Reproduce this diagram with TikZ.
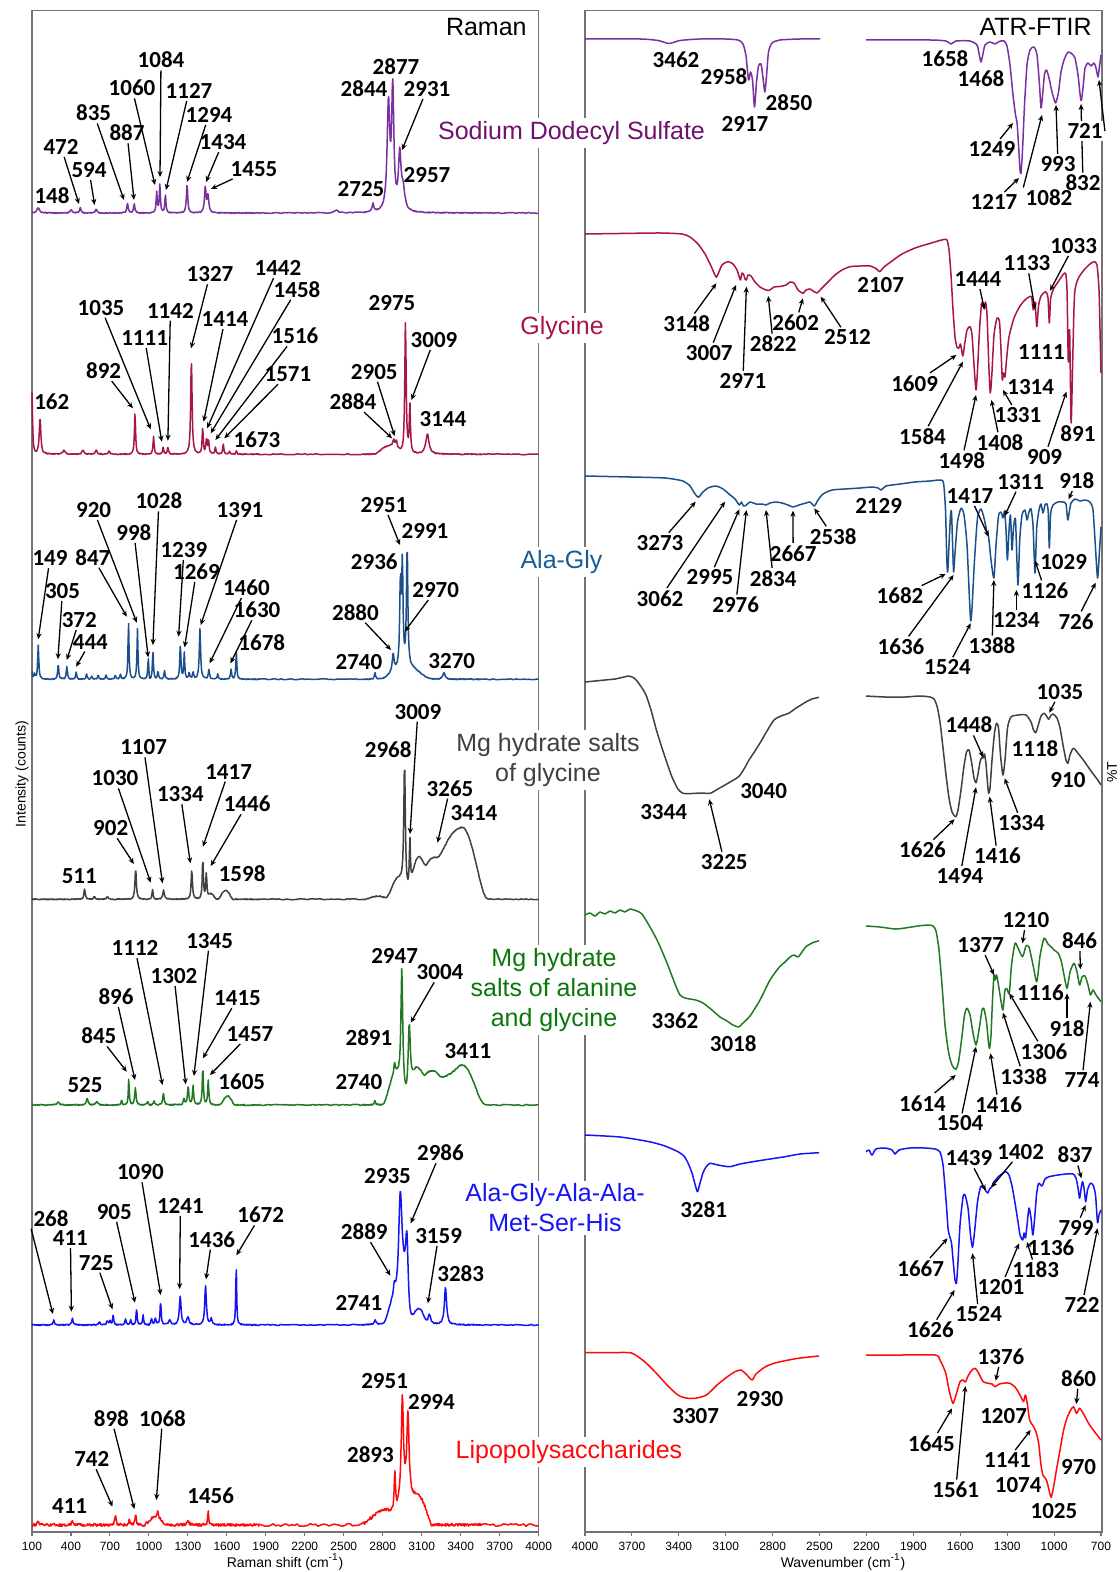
\documentclass[tikz,border=0pt]{standalone}
\usepackage{fontspec}
\setmainfont{Liberation Sans}
\newfontfamily\numfont{Carlito}
\usetikzlibrary{arrows.meta}

\definecolor{sdsline}{RGB}{122,48,160}
\definecolor{sdstext}{RGB}{112,16,112}
\definecolor{glyline}{RGB}{168,22,72}
\definecolor{agline}{RGB}{28,80,140}
\definecolor{agtext}{RGB}{24,92,150}
\definecolor{mggline}{RGB}{64,64,64}
\definecolor{mgagline}{RGB}{34,120,34}
\definecolor{mgagtext}{RGB}{10,120,10}
\definecolor{pepline}{RGB}{20,20,245}
\definecolor{lpsline}{RGB}{255,10,10}

% Raman spectra built as sums of peaks (x in units of 100 cm-1, heights in px)
\newcommand\newspec[1]{\gdef#1{0}}
\newcommand\addpk[4]{%
  \pgfmathsetmacro\pkA{#3*#4*#4}%
  \pgfmathsetmacro\pkB{#4*#4}%
  \xdef#1{\unexpanded\expandafter{#1}+\pkA/(\pkB+(\noexpand\x-#2)*(\noexpand\x-#2))}}
\newcommand\addbb[4]{%
  \pgfmathsetmacro\pkI{1/#4}%
  \xdef#1{\unexpanded\expandafter{#1}+#3*(1-(min(abs(\noexpand\x-#2),#4)*\pkI)^2)^2}}

\newspec\aRa \newspec\aRb \newspec\aRc
\addpk\aRa{1.48}{5}{0.12} \addpk\aRa{4.00}{3}{0.1} \addpk\aRa{4.72}{5}{0.07}
\addpk\aRa{5.94}{4}{0.07} \addpk\aRa{8.35}{10}{0.06} \addpk\aRa{8.87}{9}{0.06}
\addpk\aRb{10.60}{20}{0.05} \addpk\aRb{10.84}{28}{0.05} \addpk\aRb{11.27}{18}{0.05}
\addpk\aRb{12.94}{29}{0.06} \addpk\aRb{14.34}{26}{0.07} \addpk\aRb{14.55}{17}{0.07}
\addpk\aRc{24.40}{4}{0.1} \addpk\aRc{27.25}{8}{0.08} \addpk\aRc{28.44}{106}{0.12}
\addpk\aRc{28.77}{120}{0.1} \addpk\aRc{29.31}{55}{0.12} \addpk\aRc{29.57}{20}{0.15}

\newspec\bRa \newspec\bRb \newspec\bRc
\addpk\bRa{1.00}{61}{0.05} \addpk\bRa{1.62}{37}{0.07} \addpk\bRa{3.46}{4}{0.1}
\addpk\bRa{4.92}{4}{0.1} \addpk\bRa{5.94}{4}{0.08} \addpk\bRa{6.93}{3}{0.08}
\addpk\bRa{8.93}{42}{0.05}
\addpk\bRb{10.36}{18}{0.05} \addpk\bRb{11.10}{7}{0.05} \addpk\bRb{11.46}{7.5}{0.05}
\addpk\bRb{13.27}{97}{0.06} \addpk\bRb{14.14}{26}{0.05} \addpk\bRb{14.43}{15}{0.05}
\addpk\bRb{14.59}{14}{0.05} \addpk\bRb{15.12}{7}{0.05} \addpk\bRb{15.72}{10}{0.05}
\addpk\bRb{16.20}{3}{0.05} \addpk\bRb{16.73}{3}{0.05}
\addbb\bRc{28.5}{8}{1.2} \addpk\bRc{28.84}{7}{0.08} \addpk\bRc{29.05}{7}{0.08}
\addpk\bRc{29.75}{134}{0.06} \addpk\bRc{30.09}{48}{0.05} \addpk\bRc{31.44}{20}{0.15}

\newspec\cRa \newspec\cRb \newspec\cRc
\addpk\cRa{1.00}{8}{0.04} \addpk\cRa{1.20}{5}{0.05} \addpk\cRa{1.48}{34}{0.05}
\addpk\cRa{3.02}{15}{0.05} \addpk\cRa{3.68}{13}{0.05} \addpk\cRa{4.40}{7}{0.05}
\addpk\cRa{5.20}{5}{0.05} \addpk\cRa{5.60}{3}{0.05} \addpk\cRa{6.10}{4}{0.05}
\addpk\cRa{6.70}{4}{0.05} \addpk\cRa{7.40}{4}{0.05} \addpk\cRa{7.80}{5}{0.05}
\addpk\cRa{8.43}{57}{0.045} \addpk\cRa{9.12}{50}{0.045} \addpk\cRa{9.95}{21}{0.045}
\addpk\cRb{10.31}{28}{0.045} \addpk\cRb{10.70}{8}{0.05} \addpk\cRb{11.20}{8}{0.05}
\addpk\cRb{12.42}{35}{0.05} \addpk\cRb{12.72}{26}{0.045} \addpk\cRb{13.10}{6}{0.05}
\addpk\cRb{13.40}{7}{0.05} \addpk\cRb{13.93}{50}{0.06} \addpk\cRb{14.62}{10}{0.05}
\addpk\cRb{15.30}{5}{0.05} \addpk\cRb{16.32}{10}{0.05} \addpk\cRb{16.73}{27}{0.045}
\addpk\cRc{27.40}{7}{0.05} \addbb\cRc{29.8}{12}{2.0} \addpk\cRc{28.80}{18}{0.08}
\addpk\cRc{29.36}{82}{0.06} \addpk\cRc{29.51}{100}{0.06} \addpk\cRc{29.88}{122}{0.06}
\addpk\cRc{32.71}{7}{0.1}

\newspec\dRa \newspec\dRb \newspec\dRc
\addpk\dRa{5.05}{10}{0.06} \addpk\dRa{5.80}{3}{0.06} \addpk\dRa{6.80}{3}{0.07}
\addpk\dRa{8.98}{31}{0.06}
\addpk\dRb{10.28}{10}{0.05} \addpk\dRb{11.13}{9}{0.07} \addpk\dRb{13.30}{29}{0.06}
\addpk\dRb{14.15}{40}{0.05} \addpk\dRb{14.42}{26}{0.05} \addbb\dRb{15.9}{9}{0.6}
\addbb\dRb{14.8}{5}{0.4}
\addpk\dRc{29.68}{125}{0.07} \addpk\dRc{30.09}{48}{0.05} \addbb\dRc{29.2}{20}{1.0}
\addbb\dRc{30.6}{28}{0.8} \addbb\dRc{32.0}{42}{2.0} \addbb\dRc{34.1}{72}{2.0}
\addbb\dRc{27.6}{3}{1.0}

\newspec\eRa \newspec\eRb \newspec\eRc
\addpk\eRa{3.0}{3}{0.1} \addpk\eRa{5.25}{7}{0.07} \addpk\eRa{6.0}{3}{0.1}
\addpk\eRa{7.9}{5}{0.05} \addpk\eRa{8.45}{27}{0.04} \addpk\eRa{8.96}{17}{0.06}
\addpk\eRa{9.9}{4}{0.05}
\addpk\eRb{10.4}{4}{0.05} \addpk\eRb{11.12}{12}{0.06} \addpk\eRb{12.7}{6}{0.06}
\addpk\eRb{13.02}{18}{0.06} \addpk\eRb{13.40}{20}{0.05} \addpk\eRb{14.15}{38}{0.05}
\addpk\eRb{14.57}{25}{0.05} \addbb\eRb{16.05}{9}{0.6}
\addpk\eRc{27.4}{4}{0.05} \addbb\eRc{29.0}{30}{1.0} \addpk\eRc{28.91}{10}{0.06}
\addpk\eRc{29.47}{118}{0.08} \addpk\eRc{30.04}{68}{0.1} \addbb\eRc{30.5}{22}{0.8}
\addbb\eRc{31.8}{34}{2.0} \addbb\eRc{34.1}{40}{1.8}

\newspec\fRa \newspec\fRb \newspec\fRc
\addpk\fRa{2.68}{5}{0.06} \addpk\fRa{4.11}{7}{0.06} \addpk\fRa{6.2}{3}{0.08}
\addpk\fRa{6.8}{4}{0.06} \addpk\fRa{7.0}{4}{0.05} \addpk\fRa{7.25}{10}{0.05}
\addpk\fRa{8.2}{6}{0.05} \addpk\fRa{8.6}{5}{0.05} \addpk\fRa{9.05}{16}{0.05}
\addpk\fRa{9.55}{10}{0.05}
\addpk\fRb{10.2}{6}{0.06} \addpk\fRb{10.5}{7}{0.06} \addpk\fRb{10.90}{23}{0.05}
\addpk\fRb{11.6}{5}{0.08} \addpk\fRb{12.41}{28}{0.08} \addpk\fRb{13.0}{8}{0.1}
\addpk\fRb{14.36}{40}{0.07} \addpk\fRb{14.8}{6}{0.08} \addpk\fRb{16.72}{62}{0.04}
\addpk\fRc{27.41}{4}{0.08} \addbb\fRc{29.0}{25}{1.0} \addpk\fRc{28.89}{10}{0.06}
\addpk\fRc{29.35}{95}{0.15} \addpk\fRc{29.86}{69}{0.12} \addbb\fRc{29.6}{30}{0.5}
\addbb\fRc{30.8}{14}{0.7} \addpk\fRc{31.59}{10}{0.12} \addpk\fRc{32.83}{37}{0.1}

\newspec\gRa \newspec\gRb \newspec\gRc
\addpk\gRa{1.5}{3}{0.1} \addpk\gRa{4.11}{4}{0.08} \addpk\gRa{7.42}{10}{0.06}
\addpk\gRa{8.5}{5}{0.06} \addpk\gRa{8.98}{10}{0.06} \addbb\gRa{10.5}{8}{0.9}
\addbb\gRb{10.5}{8}{0.9} \addpk\gRb{10.68}{6}{0.06} \addpk\gRb{13.0}{4}{0.1}
\addpk\gRb{14.56}{15}{0.04}
\addbb\gRc{28.2}{14}{2.0} \addpk\gRc{28.93}{40}{0.06} \addpk\gRc{29.51}{101}{0.1}
\addpk\gRc{29.94}{77}{0.1} \addbb\gRc{30.0}{30}{1.2} \addbb\gRc{31.0}{22}{0.8}

% style, baseline, three parts, noise
\newcommand\ramanplot[6]{%
  \draw[trace,#1] plot[domain=1:10,samples=226] ({19.01+12.99*\x},{#2-(#3)+#6*rand})
    -- plot[domain=10.04:18.5,samples=212] ({19.01+12.99*\x},{#2-(#4)+#6*rand})
    -- plot[domain=18.54:26.5,samples=40] ({19.01+12.99*\x},{#2-(#5)+#6*rand})
    -- plot[domain=26.54:35.5,samples=225] ({19.01+12.99*\x},{#2-(#5)+#6*rand})
    -- plot[domain=35.54:40,samples=24] ({19.01+12.99*\x},{#2-(#5)+#6*rand});}

\newcommand\plab[4][]{\node[pklbl,#1] (#2#3) at (#4) {#3};}
\newcommand\parr[3][]{\coordinate (#2p) at (#3);%
  \ifx\relax#1\relax\draw[pkarr] (#2) -- (#2p);\else\draw[pkarr] (#2.#1) -- (#2p);\fi}

\begin{document}
\begin{tikzpicture}[
    x=0.5pt, y=-0.5pt,
    frame/.style={draw=black!55, line width=0.55pt},
    trace/.style={line width=0.75pt, line join=round},
    pklbl/.style={font=\numfont\bfseries\fontsize{11.5}{12}\selectfont, inner sep=1pt},
    pkarr/.style={-{Stealth[length=3pt,width=2.6pt]}, line width=0.65pt},
    samp/.style={font=\fontsize{12.5}{15}\selectfont, fill=white, align=center, inner sep=1.5pt},
    ttl/.style={font=\fontsize{12.5}{15}\selectfont, inner sep=0pt},
    tick/.style={font=\fontsize{6}{7}\selectfont, inner sep=0pt},
    axt/.style={font=\fontsize{7}{8}\selectfont, inner sep=0pt}
  ]
  \fill[white] (0,0) rectangle (1119,1572);
  \useasboundingbox (0,0) rectangle (1119,1572);

  \draw[frame] (32,10.7) rectangle (538.6,1532);
  \draw[frame] (585,10.7) rectangle (1102,1532);
  \foreach \t in {100,400,...,4000} {
    \draw[frame] ({32+(\t-100)*0.1299},1532) -- ++(0,4);
    \node[tick] (rt\t) at ({32+(\t-100)*0.1299},1546) {\t};
  }
  \foreach \t in {4000,3700,...,700} {
    \draw[frame] ({585+(4000-\t)*0.15636},1532) -- ++(0,4);
    \node[tick] (ft\t) at ({585+(4000-\t)*0.15636},1546) {\t};
  }

  \ramanplot{sdsline}{213}{\aRa}{\aRb}{\aRc}{0.5}
  \ramanplot{glyline}{454.3}{\bRa}{\bRb}{\bRc}{0.5}
  \ramanplot{agline}{679.3}{\cRa}{\cRb}{\cRc}{0.5}
  \ramanplot{mggline}{899.3}{\dRa}{\dRb}{\dRc}{0.5}
  \ramanplot{mgagline}{1105}{\eRa}{\eRb}{\eRc}{0.6}
  \ramanplot{pepline}{1325}{\fRa}{\fRb}{\fRc}{0.6}
  \ramanplot{lpsline}{1525}{\gRa}{\gRb}{\gRc}{1.4}

  \draw[trace,sdsline] plot[smooth,tension=0.4] coordinates {(585,39) (640,39) (658,40.5) (669,43.5) (680,40.5) (700,39) (725,39) (738,40) (743,44) (746,56) (748.5,80) (750.5,72) (752.5,80) (754.5,107) (756.5,82) (758.5,66) (761,64) (763,78) (764.8,92) (766.5,76) (768.5,52) (772,43) (780,40) (800,39) (820,39)};
  \draw[trace,sdsline] plot[smooth,tension=0.4] coordinates {(866,40) (930,40) (946,41) (951,44) (956,41) (970,41) (977,45) (979.5,56) (981,62) (982.5,56) (985,45) (990,42) (995,44) (999,41.5) (1004,41) (1007,46) (1010,65) (1013,95) (1015.5,115) (1017,122) (1018.5,145) (1020,170) (1021,173) (1022.5,150) (1024.5,105) (1027,65) (1030,50) (1034,47) (1037,55) (1039.5,85) (1041,108) (1042.5,96) (1044.5,74) (1046.5,70) (1049,78) (1052,92) (1055.5,103) (1058.5,92) (1061,72) (1064,60) (1068,52) (1072,54) (1075,58) (1078,75) (1080.5,98) (1081.5,100) (1083,88) (1085,68) (1088,63) (1091,66) (1094,63) (1096,68) (1098,77) (1099.5,66) (1101,55)};
  \draw[trace,glyline] plot[smooth,tension=0.4] coordinates {(585,234) (620,233.5) (660,233) (682,234) (690,237) (698,244) (705,254) (711,266) (714.5,274) (716.4,277.3) (718.5,273) (722,265) (727.9,261.7) (733,264) (737,270) (739,276) (740.5,280) (742,273) (743.8,275) (745,279) (746.4,280) (748,275) (751,276) (755,282) (760,287) (766,290) (769,290.5) (774,287) (780,286.5) (786,285) (790,282) (794,283) (798,290) (802.9,293.3) (806,290) (810,289) (813,291) (817,293) (821,289) (828,282) (835,275) (842,270) (850,266.7) (860,266) (870,266) (876,268.5) (879.6,271.7) (884,267) (892,261) (902,254) (915,248) (928,244) (938,241) (944,239.5) (947,240) (949,250) (951,275) (953,310) (955,337) (956.9,347) (958.9,348) (960.5,344) (962.8,356) (964.5,345) (967,330) (970,326.7) (972,335) (974,365) (976,390) (977.5,370) (979.5,330) (981.5,304) (983,303) (984.3,309) (985.5,302) (987,315) (989,370) (990.3,393) (991.8,375) (994,335) (997,318) (999.5,322) (1001,350) (1002.3,380) (1003.5,373) (1005,377) (1006.5,360) (1009,337) (1014,318) (1020,306) (1026,299) (1031.4,296.7) (1033.3,310) (1035,302) (1036.8,326.7) (1038.5,306) (1041,296) (1045.7,291.7) (1048,298) (1049.3,323) (1050.7,298) (1054,288) (1058,282) (1062,276) (1065.5,273.3) (1067,290) (1068.3,362) (1069.6,330) (1071.1,423) (1072.6,365) (1074.5,295) (1078,279) (1084,270) (1090,264) (1094,261.7) (1097,265) (1099,290) (1100,330) (1101,373)};
  \draw[trace,agline] plot[smooth,tension=0.4] coordinates {(585,476) (630,477) (665,478) (683,481) (690,486) (695,494) (698.6,497.3) (702,493) (708,488) (716,486) (723,489) (729,494) (735,499) (739.3,505) (741.5,502) (743.5,506) (746.4,505) (750,502) (756,504) (762,504) (766,505) (770,503) (776,502) (782,503) (788,505) (793,507) (799,505) (806,503) (810,502) (814.3,506) (818,500) (823,494) (832,490) (845,489) (860,488) (872,487) (878,488) (881.4,490) (886,486) (900,484) (915,482) (930,481) (940,480) (943.5,483) (945.5,510) (946.8,560) (947.7,572) (949,545) (950.5,515) (951.5,512) (952.6,545) (953.6,572) (955,553) (957.5,522) (961,508.3) (964,515) (967,545) (969.5,600) (970.7,621) (972,608) (974.5,560) (977.5,518) (981,509) (984,518) (986.5,530) (988.6,537) (991,560) (993.9,578) (996,545) (998.5,516) (1001,512) (1003,518) (1004.6,511) (1006,530) (1007.4,560) (1009,530) (1010.5,515) (1012,550) (1013.5,528) (1015.5,520) (1017.9,585) (1019.7,540) (1022,515) (1025,510) (1027,520) (1029,512) (1031,509) (1033,525) (1035,573) (1036.7,528) (1039,510) (1041,504) (1043,513) (1045,505) (1047,504) (1048.2,512) (1049.3,548) (1050.6,514) (1053,505) (1058,502) (1063,502) (1066,504) (1067.7,520) (1069.3,512) (1071,503) (1075,499) (1080,501) (1085,500) (1090,502) (1093,510) (1095,540) (1097.5,578) (1099.2,555) (1101,527)};
  \draw[trace,mggline] plot[smooth,tension=0.4] coordinates {(585,682) (595,681) (605,680) (615,679) (624,677) (629,676) (634,678) (637,681) (642,688) (646,695) (651,710) (656.4,730) (662,748) (667,763) (672,777) (677.9,789) (683,793.3) (692,793.5) (701,793) (710,793.3) (718,789) (727.9,783.3) (738.6,776.7) (744,769) (749,760) (755,751) (760,743) (767,731) (774,720) (781,716) (788.6,713.3) (792,711) (795.7,708.3) (801,705) (806.4,701.7) (812,699) (819,697.3)};
  \draw[trace,mggline] plot[smooth,tension=0.4] coordinates {(866,696) (885,697) (905,697) (920,696) (930,697) (934,699) (937,706) (940,722) (943,748) (946,775) (949,798) (952,812) (955.7,816.7) (958,810) (961,790) (964,766) (966.5,752) (969,750) (971.5,762) (974,778) (976,782.7) (978,774) (980,762) (982,757) (983.2,758) (984.5,754) (986,764) (987.5,783) (988.6,793.3) (990,788) (992,760) (994.5,733) (996.5,723.3) (998.5,728) (1000.5,755) (1002.9,775) (1005,760) (1007.5,728) (1011,717) (1018,715) (1026,715) (1031,722) (1033.5,730) (1035.7,732.7) (1038,726) (1041,716) (1044,713.3) (1046.5,716) (1048.6,719.3) (1050.5,716) (1053,714) (1057,718) (1060,728) (1063,745) (1066,760) (1067.9,763.3) (1070,755) (1072.5,749) (1074,748.3) (1077,752) (1084,761) (1091,771) (1097,779) (1101,785)};
  \draw[trace,mgagline] plot[smooth,tension=0.4] coordinates {(585,915) (590,913) (595,916) (600,912) (605,914) (610,911) (615,913) (620,910) (625,912) (630,909) (636.8,911) (642,914) (650,927) (658,942) (667,963) (675,984) (680,995) (685,998) (690,999) (695.7,1000) (703,1003) (712,1010) (720,1017) (727,1021) (733,1025) (738.6,1027) (742,1024) (750,1016) (760,1000) (770,980) (779.6,966.7) (785,962) (790,957) (794,955) (798,957) (802,952) (806,946.7) (812,943) (819,940.7)};
  \draw[trace,mgagline] plot[smooth,tension=0.4] coordinates {(866,926) (880,927) (895,929) (905,928) (918,926) (928,925) (933,926) (936,931) (939,950) (942,985) (945,1025) (948.5,1052) (952,1065) (955.7,1069.3) (958.5,1062) (961.5,1040) (964.5,1015) (967,1008.3) (970,1015) (973,1033) (976,1045) (979,1030) (982,1010) (984,1009) (986.5,1022) (988.5,1043) (989.6,1048.3) (991,1035) (992.5,1000) (994,975) (995.2,980) (996.5,975) (998,982) (1000.5,998) (1002.9,1010) (1005,990) (1007,989) (1009.3,993.3) (1011.5,965) (1015,943.3) (1018,948) (1022.5,956.7) (1026,946) (1029,947) (1033,965) (1036.8,981.7) (1040,956) (1044,938.3) (1048,944) (1051,946.7) (1054,950) (1058,953) (1061,960) (1064,975) (1067,988.3) (1070,972) (1074,963.3) (1077,972) (1079.6,985) (1082,977) (1085,976) (1088,985) (1090.4,995) (1093,990) (1096,995) (1101,1001.7)};
  \draw[trace,pepline] plot[smooth,tension=0.4] coordinates {(585,1135) (620,1137) (649.3,1141.7) (665,1146) (677.9,1151.7) (684,1156) (688,1163) (692,1173) (695.5,1186) (697.5,1191.7) (699.5,1185) (702.9,1173) (706,1167) (710,1163.3) (718,1165) (729.6,1166.7) (740,1164) (752.9,1161.7) (770,1159) (785,1156.7) (800,1154) (819,1152.7)};
  \draw[trace,pepline] plot[smooth,tension=0.4] coordinates {(866,1151.7) (869,1150) (872,1155) (876,1149) (885,1148) (892,1150) (895,1154) (899,1150) (910,1148) (925,1148) (935,1149) (940,1152) (943,1165) (946,1200) (948,1228) (949.3,1235) (951.5,1243) (953.5,1265) (955,1280) (956.4,1283.3) (957.8,1265) (960,1225) (963,1197) (965,1195) (968,1208) (970.5,1235) (972.5,1247.3) (974.5,1232) (977.5,1202) (980.5,1187) (983,1186) (985.7,1190.7) (987.8,1193) (989.5,1189) (991.4,1187.3) (994,1182) (998,1177) (1003,1173) (1006,1171.7) (1009,1175) (1012,1186) (1015,1203) (1018,1222) (1020,1235) (1022.7,1240) (1024,1233) (1025.5,1238) (1027,1225) (1029,1208) (1031,1218) (1032.8,1235) (1034.5,1220) (1036.5,1195) (1038.6,1183.3) (1042,1186) (1045,1179) (1049,1176.7) (1058,1175) (1066,1174) (1073,1174) (1076,1178) (1078,1188) (1079.6,1198.3) (1081,1189) (1082.5,1181.7) (1084,1188) (1085.7,1201.7) (1087.5,1190) (1090.4,1183.3) (1093,1185) (1095.5,1195) (1097.5,1222.7) (1099,1215) (1101,1210)};
  \draw[trace,lpsline] plot[smooth,tension=0.4] coordinates {(585,1352.7) (610,1352.7) (631.4,1353) (645,1362) (656.4,1373.3) (667,1385) (677.9,1395) (686,1398) (695,1398.3) (706.4,1395) (717,1385) (727,1377) (735,1371.7) (741,1370) (746,1374) (752.1,1380) (756,1374) (765.4,1366.7) (775,1363) (788.6,1360) (800,1358) (819,1356)};
  \draw[trace,lpsline] plot[smooth,tension=0.4] coordinates {(866,1355) (900,1355) (935,1355) (940,1360) (945.7,1373) (949,1390) (952.9,1403.3) (956,1395) (960,1381.7) (963,1380) (965.4,1382) (968,1376) (972,1370) (975,1368.3) (978,1372) (983.2,1381.7) (988.6,1383.3) (992,1384) (995,1386.7) (999.3,1384) (1005,1383) (1010,1383.3) (1015,1387) (1019,1393.3) (1021.5,1398) (1023.6,1401.7) (1025.4,1395) (1027.5,1405) (1029.6,1420) (1033.2,1426) (1036,1432) (1038.6,1443) (1041,1465) (1042.9,1475) (1046.4,1480) (1049,1490) (1051,1497.3) (1053,1490) (1056.4,1470) (1060,1450) (1063.6,1430) (1067,1418) (1070.7,1410) (1073.6,1406.7) (1076.4,1413.3) (1079.6,1408.3) (1083,1413) (1088.6,1423.3) (1094,1431) (1101,1440)};

  \node[samp, text=sdstext] (sds) at (571.5,133) {Sodium Dodecyl Sulfate};
  \node[samp, text=glyline] (gly) at (562,328) {Glycine};
  \node[samp, text=agtext] (ag) at (561.5,562) {Ala-Gly};
  \node[samp, text=mggline] (mgg) at (548,760) {Mg hydrate salts\\of glycine};
  \node[samp, text=mgagtext] (mgag) at (554,990) {Mg hydrate\\salts of alanine\\and glycine};
  \node[samp, text=pepline] (pep) at (555,1208) {Ala-Gly-Ala-Ala-\\Met-Ser-His};
  \node[samp, text=lpsline] (lps) at (569,1452) {Lipopolysaccharides};

  \plab{aR}{148}{52,196}
  \plab{aR}{472}{61,147} \parr{aR472}{79,204}
  \plab{aR}{594}{89,170} \parr{aR594}{94.6,205}
  \plab{aR}{835}{93.6,113} \parr{aR835}{124,200}
  \plab{aR}{887}{127,133} \parr{aR887}{134,200}
  \plab{aR}{1060}{132,88} \parr{aR1060}{155,185}
  \plab{aR}{1084}{161,60} \parr{aR1084}{160,177}
  \plab{aR}{1127}{189,91} \parr{aR1127}{166,190}
  \plab{aR}{1294}{209,115} \parr{aR1294}{187,182}
  \plab{aR}{1434}{223,142} \parr{aR1434}{206,182}
  \plab{aR}{1455}{254,169} \parr{aR1455}{211,189}
  \plab{aR}{2725}{361,189}
  \plab{aR}{2844}{364,89}
  \plab{aR}{2877}{396,67}
  \plab{aR}{2931}{427,89} \parr{aR2931}{402,150}
  \plab{aR}{2957}{427,175}

  \plab{aF}{3462}{676,60}
  \plab{aF}{2958}{724,77}
  \plab{aF}{2917}{745,124}
  \plab{aF}{2850}{789,103}
  \plab{aF}{1658}{945,59}
  \plab{aF}{1468}{981,79}
  \plab{aF}{1249}{992,149} \parr{aF1249}{1013,123}
  \plab{aF}{1217}{994,202} \parr{aF1217}{1019,178}
  \plab{aF}{1082}{1049,198} \parr[north west]{aF1082}{1042,115}
  \plab{aF}{993}{1058,164} \parr{aF993}{1056,105}
  \plab{aF}{832}{1083,183} \parr{aF832}{1081,104}
  \plab[fill=white]{aF}{721}{1085,131} \parr[east]{aF721}{1099,80}

  \plab{bR}{162}{51.8,401.7}
  \plab{bR}{892}{103.6,370.7} \parr{bR892}{132.9,408.3}
  \plab{bR}{1035}{101,307.7} \parr{bR1035}{150.7,429.3}
  \plab{bR}{1111}{144.6,338.3} \parr{bR1111}{161.8,441.7}
  \plab{bR}{1142}{170.4,310.7} \parr{bR1142}{167.9,440.7}
  \plab{bR}{1327}{210,274.3} \parr{bR1327}{191,348.3}
  \plab{bR}{1414}{225,319.3} \parr{bR1414}{203.6,421.7}
  \plab{bR}{1442}{277.9,268.3} \parr{bR1442}{207.1,428.3}
  \plab{bR}{1458}{297,289.3} \parr{bR1458}{210.7,433.3}
  \plab{bR}{1516}{295,336} \parr{bR1516}{215.4,440}
  \plab{bR}{1571}{287.9,374.3} \parr{bR1571}{224.3,438.3}
  \plab{bR}{1673}{257,440}
  \plab{bR}{2884}{352.9,401.7} \parr{bR2884}{392.1,438.3}
  \plab{bR}{2905}{374.3,371.7} \parr{bR2905}{394.6,436}
  \plab{bR}{2975}{392,302.7}
  \plab{bR}{3009}{434,340} \parr{bR3009}{411.4,400}
  \plab{bR}{3144}{442.9,419.3}

  \plab{bF}{3148}{686.8,324} \parr{bF3148}{716.4,283.3}
  \plab{bF}{3007}{709.3,352.7} \parr{bF3007}{736,285}
  \plab{bF}{2971}{742.9,380.7} \parr{bF2971}{746.4,286.7}
  \plab{bF}{2822}{773.2,344} \parr{bF2822}{768.2,296}
  \plab{bF}{2602}{795.7,322.7} \parr{bF2602}{802.9,298.3}
  \plab{bF}{2512}{847.5,337.3} \parr{bF2512}{820.7,296.7}
  \plab{bF}{2107}{880.7,285}
  \plab{bF}{1444}{977.9,279.3} \parr{bF1444}{984.3,309.3}
  \plab{bF}{1133}{1027,263.3} \parr{bF1133}{1035,309.3}
  \plab{bF}{1033}{1073.6,246} \parr{bF1033}{1050,290.7}
  \plab{bF}{1609}{914.6,383.3} \parr{bF1609}{956.4,355}
  \plab{bF}{1584}{922.5,436.7} \parr{bF1584}{962.9,361.7}
  \plab{bF}{1498}{961.8,460.7} \parr{bF1498}{976,395}
  \plab{bF}{1408}{1000,442.7} \parr{bF1408}{991.4,400}
  \plab{bF}{1331}{1017.9,415} \parr{bF1331}{1002.9,390}
  \plab{bF}{1314}{1030.7,386.7}
  \plab{bF}{1111}{1041.4,351.7}
  \plab{bF}{909}{1044.6,456.7} \parr{bF909}{1066.4,391.7}
  \plab{bF}{891}{1077.9,433.3}

  \plab{cR}{149}{50,558.3} \parr{cR149}{38.2,639.3}
  \plab{cR}{305}{62.5,591} \parr{cR305}{57.9,659.3}
  \plab{cR}{372}{79.3,620} \parr{cR372}{66.8,660}
  \plab{cR}{444}{90.4,641.7} \parr{cR444}{76.1,666.7}
  \plab{cR}{847}{92.9,557.3} \parr{cR847}{126.8,616.7}
  \plab{cR}{920}{93.6,510} \parr{cR920}{136.8,622.7}
  \plab{cR}{998}{133.9,532.7} \parr{cR998}{148.2,657.3}
  \plab{cR}{1028}{158.9,501} \parr{cR1028}{152.9,645}
  \plab{cR}{1239}{183.9,550} \parr{cR1239}{178.6,636.7}
  \plab{cR}{1269}{196.4,571.5} \parr{cR1269}{184.6,647.3}
  \plab{cR}{1391}{240,510} \parr{cR1391}{200.7,625}
  \plab{cR}{1460}{246.4,587.7} \parr{cR1460}{209.6,663.3}
  \plab{cR}{1630}{257,610} \parr{cR1630}{230.4,663.3}
  \plab{cR}{1678}{261.8,642.7}
  \plab{cR}{2740}{358.9,661.7}
  \plab{cR}{2880}{355.4,612.3} \parr{cR2880}{391,650}
  \plab{cR}{2936}{374.3,561.7}
  \plab{cR}{2951}{384,505} \parr{cR2951}{400,545}
  \plab{cR}{2991}{425,530.7}
  \plab{cR}{2970}{435.7,590} \parr{cR2970}{404.6,631.7}
  \plab{cR}{3270}{451.8,661}

  \plab{cF}{3273}{660,542.7} \parr{cF3273}{695.7,501.7}
  \plab{cF}{3062}{660,598.3} \parr{cF3062}{725,501.7}
  \plab{cF}{2995}{710,577.3} \parr{cF2995}{739.3,509.3}
  \plab{cF}{2976}{735.7,605} \parr{cF2976}{746.4,510}
  \plab{cF}{2834}{773.2,578.3} \parr{cF2834}{766,510}
  \plab{cF}{2667}{793.2,553.3} \parr{cF2667}{792.9,510.7}
  \plab{cF}{2538}{833.2,536.7} \parr{cF2538}{814.3,508.3}
  \plab{cF}{2129}{878.6,505.7}
  \plab{cF}{1682}{900,596} \parr{cF1682}{945.7,574}
  \plab{cF}{1636}{901,646.7} \parr{cF1636}{953.6,575}
  \plab{cF}{1524}{947.5,667.3} \parr{cF1524}{970.7,623.3}
  \plab{cF}{1388}{992,646} \parr{cF1388}{993.9,580}
  \plab{cF}{1417}{970,496} \parr{cF1417}{988.6,536.7}
  \plab{cF}{1311}{1020.7,481.7} \parr{cF1311}{1004.6,516}
  \plab{cF}{1234}{1016.4,620} \parr{cF1234}{1016.4,590}
  \plab{cF}{1126}{1045,590.7} \parr{cF1126}{1035,560.7}
  \plab{cF}{1029}{1063.6,561.7}
  \plab{cF}{918}{1076.8,480.7} \parr{cF918}{1068.6,499.3}
  \plab{cF}{726}{1076,621.7} \parr{cF726}{1095.7,582.7}

  \plab{dR}{511}{79.3,876}
  \plab{dR}{902}{110.7,828.3} \parr{dR902}{133.9,864}
  \plab{dR}{1030}{115,778.3} \parr{dR1030}{150.7,882.7}
  \plab{dR}{1107}{143.6,747.3} \parr{dR1107}{162.5,883.3}
  \plab{dR}{1334}{180.4,794.3} \parr{dR1334}{190.4,863.3}
  \plab{dR}{1417}{228.6,771.7} \parr{dR1417}{202.9,846.7}
  \plab{dR}{1446}{247.1,804} \parr{dR1446}{210.7,866}
  \plab{dR}{1598}{242.1,874}
  \plab{dR}{2968}{388.2,749.3}
  \plab{dR}{3009}{417.9,711.7} \parr{dR3009}{410,834}
  \plab{dR}{3265}{450,788.3} \parr{dR3265}{437.5,842.7}
  \plab{dR}{3414}{474,812.7}

  \plab{dF}{3344}{663.6,811.7}
  \plab{dF}{3225}{724.3,861.7} \parr{dF3225}{709.3,799.3}
  \plab{dF}{3040}{763.6,791}
  \plab{dF}{1448}{968.9,725} \parr{dF1448}{983.2,757.3}
  \plab{dF}{1035}{1060,691.7} \parr{dF1035}{1049.3,712.7}
  \plab{dF}{1118}{1035,748.3}
  \plab{dF}{910}{1067.9,780}
  \plab{dF}{1626}{922.5,850} \parr{dF1626}{954.6,819.3}
  \plab{dF}{1494}{960,876} \parr{dF1494}{976,787.3}
  \plab{dF}{1416}{997.5,856} \parr{dF1416}{989.6,796.7}
  \plab{dF}{1334}{1021.4,822.7} \parr{dF1334}{1004.6,778.3}

  \plab{eR}{525}{85,1085}
  \plab{eR}{845}{98.9,1036} \parr{eR845}{126.8,1071.7}
  \plab{eR}{896}{116,996.7} \parr{eR896}{135,1080}
  \plab{eR}{1112}{135,948.3} \parr{eR1112}{162.5,1085}
  \plab{eR}{1302}{174,976} \parr{eR1302}{185.7,1084.3}
  \plab{eR}{1345}{209.6,940.7} \parr{eR1345}{193.9,1076}
  \plab{eR}{1415}{237.5,998.3} \parr{eR1415}{202.9,1058.3}
  \plab{eR}{1457}{250,1034} \parr{eR1457}{210,1075}
  \plab{eR}{1605}{241.8,1081.7}
  \plab{eR}{2740}{358.9,1081.7}
  \plab{eR}{2891}{368.9,1037.3}
  \plab{eR}{2947}{394.6,956}
  \plab{eR}{3004}{440,972.3} \parr{eR3004}{410.7,1022.7}
  \plab{eR}{3411}{467.9,1051}

  \plab{eF}{3362}{675,1020.7}
  \plab{eF}{3018}{733.2,1043.3}
  \plab{eF}{1377}{980.7,945} \parr{eF1377}{994,975}
  \plab{eF}{1210}{1026,920} \parr{eF1210}{1022.5,943.3}
  \plab{eF}{846}{1079.6,940.7} \parr{eF846}{1080.4,969.3}
  \plab{eF}{1116}{1040.4,992.7}
  \plab{eF}{918}{1067,1028.3} \parr{eF918}{1067,993.3}
  \plab{eF}{1306}{1044,1051.7} \parr{eF1306}{1009.3,993.3}
  \plab{eF}{1338}{1023.6,1076.7} \parr{eF1338}{1002.9,1012.7}
  \plab{eF}{774}{1082,1080} \parr{eF774}{1090.4,1001.7}
  \plab{eF}{1614}{922.5,1103.3} \parr{eF1614}{955.7,1075}
  \plab{eF}{1504}{960,1123.3} \parr{eF1504}{976,1046.7}
  \plab{eF}{1416}{998.6,1105} \parr{eF1416}{990.4,1053.3}

  \plab{fR}{268}{51,1218.3} \parr[south west]{fR268}{52.9,1314}
  \plab{fR}{411}{70.4,1238.3} \parr{fR411}{71.4,1311.7}
  \plab{fR}{725}{96.4,1262.7} \parr{fR725}{112.5,1309.3}
  \plab{fR}{905}{114.3,1211.7} \parr{fR905}{135,1302.7}
  \plab{fR}{1090}{140.4,1172.3} \parr{fR1090}{160.7,1295}
  \plab{fR}{1241}{180.4,1206} \parr{fR1241}{179.6,1289}
  \plab{fR}{1436}{211.8,1239.3} \parr{fR1436}{206,1279.3}
  \plab{fR}{1672}{260.7,1215} \parr{fR1672}{236.4,1255.3}
  \plab{fR}{2741}{358.9,1302.7}
  \plab{fR}{2889}{364.3,1231.7} \parr{fR2889}{390.4,1275.7}
  \plab{fR}{2935}{387.5,1175.7}
  \plab{fR}{2986}{440.4,1152.7} \parr{fR2986}{410.7,1223.3}
  \plab{fR}{3159}{438.6,1236} \parr{fR3159}{427.9,1303.3}
  \plab{fR}{3283}{460.7,1274}

  \plab{fF}{3281}{703.6,1209.3}
  \plab{fF}{1667}{920.7,1268.3} \parr{fF1667}{947.5,1238.3}
  \plab{fF}{1626}{930.4,1330} \parr{fF1626}{954.6,1290}
  \plab{fF}{1524}{978.6,1314} \parr{fF1524}{972.5,1253.3}
  \plab{fF}{1439}{968.9,1158.3} \parr{fF1439}{985.7,1190.7}
  \plab{fF}{1402}{1020.7,1151.7} \parr{fF1402}{991.4,1187.3}
  \plab{fF}{1201}{1001,1287} \parr{fF1201}{1019,1243.3}
  \plab{fF}{1183}{1035.7,1270} \parr{fF1183}{1027,1242}
  \plab{fF}{1136}{1051,1247.5}
  \plab{fF}{837}{1075,1155} \parr{fF837}{1081.4,1178.3}
  \plab{fF}{799}{1076,1227.5} \parr{fF799}{1085.7,1205}
  \plab{fF}{722}{1082,1305} \parr{fF722}{1097.5,1228.3}

  \plab{gR}{411}{69.6,1506}
  \plab{gR}{742}{91.8,1459.3} \parr{gR742}{112.5,1506.7}
  \plab{gR}{898}{111.4,1418.3} \parr{gR898}{134.3,1509}
  \plab{gR}{1068}{162.5,1418.3} \parr{gR1068}{156.4,1500}
  \plab{gR}{1456}{210.7,1496}
  \plab{gR}{2893}{370.4,1455}
  \plab{gR}{2951}{384.6,1380.7}
  \plab{gR}{2994}{431.4,1401.7}

  \plab{gF}{3307}{695.7,1416}
  \plab{gF}{2930}{760,1399.3}
  \plab{gF}{1376}{1001,1356.7} \parr{gF1376}{995.7,1380.7}
  \plab{gF}{860}{1078.6,1378.3} \parr{gF860}{1076.4,1404}
  \plab{gF}{1207}{1003.6,1416}
  \plab{gF}{1645}{931.4,1443.3} \parr{gF1645}{952.1,1408.3}
  \plab{gF}{1561}{955.7,1490} \parr{gF1561}{965.4,1386}
  \plab{gF}{1141}{1007.5,1460} \parr{gF1141}{1030.7,1430}
  \plab{gF}{1074}{1018.2,1485}
  \plab{gF}{1025}{1053.9,1511}
  \plab{gF}{970}{1078.6,1466.7}

  \node[ttl, anchor=east] (ram) at (527,27) {Raman};
  \node[ttl, anchor=east] (ftir) at (1092,27) {ATR-FTIR};
  \node[axt] (ramx) at (285,1562) {Raman shift (cm\textsuperscript{-1})};
  \node[axt] (irx) at (843,1562) {Wavenumber (cm\textsuperscript{-1})};
  \node[axt, rotate=90] (ylab) at (22,774) {Intensity (counts)};
  \node[axt, rotate=90] (tlab) at (1112,772) {\%T};
\end{tikzpicture}
\end{document}
